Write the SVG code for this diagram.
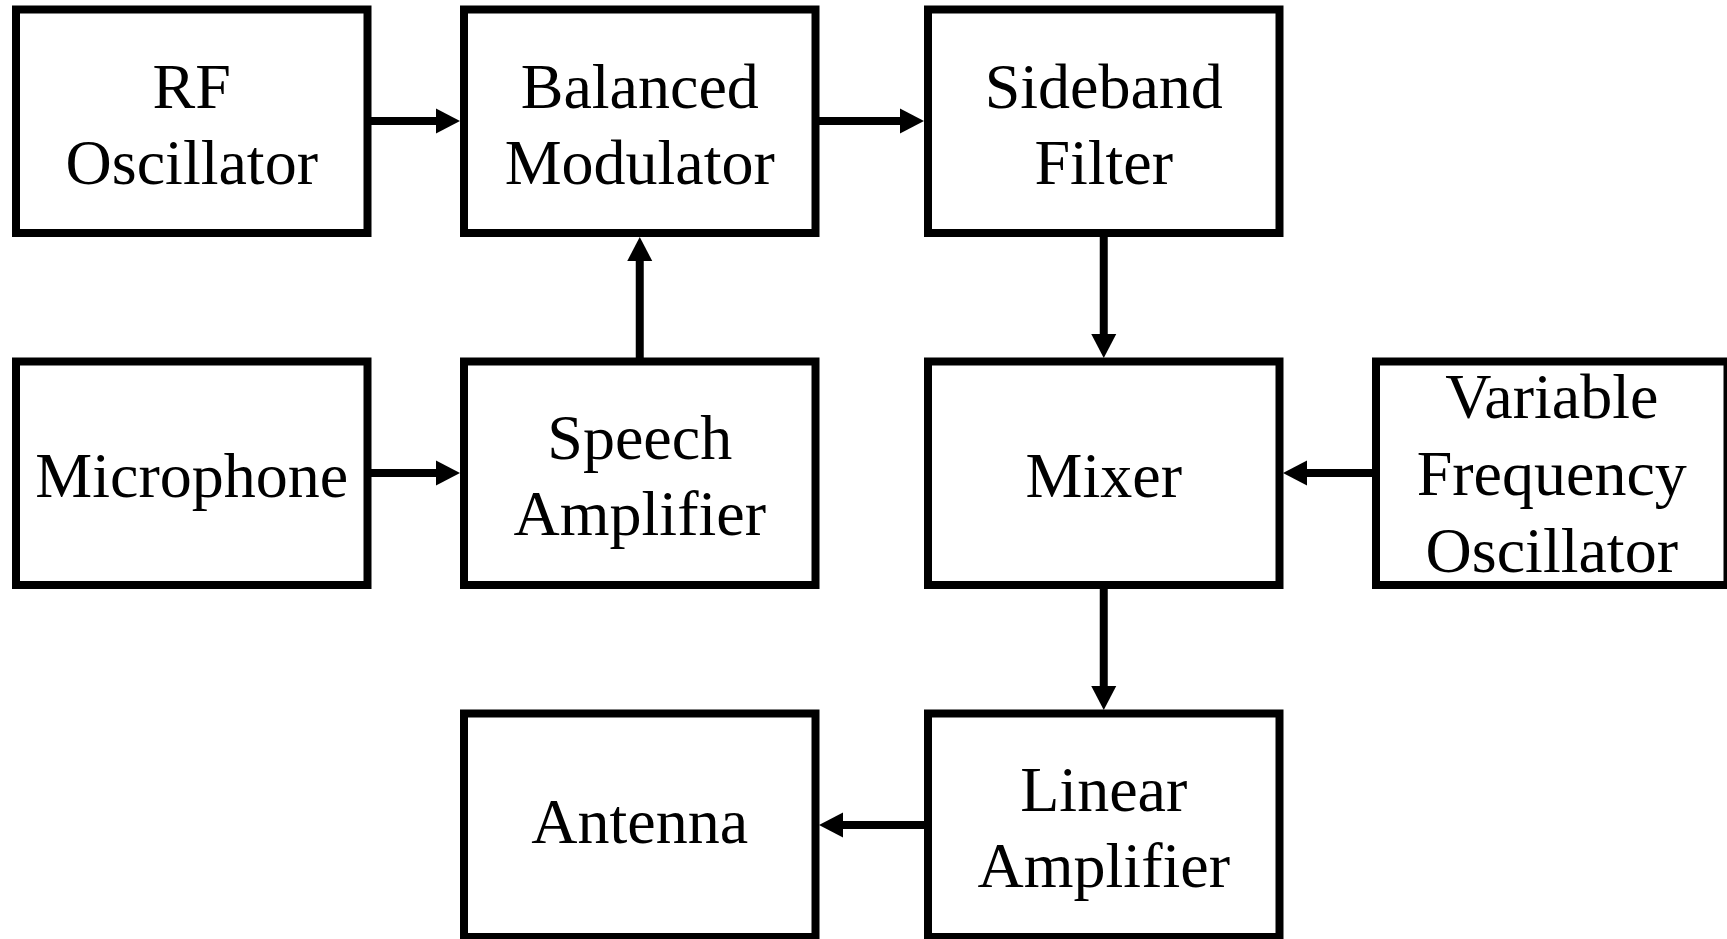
<svg xmlns="http://www.w3.org/2000/svg" width="1727" height="939" viewBox="0 0 1727 939">
<style>
.box{fill:#fff;stroke:#000;stroke-width:8}
.lbl{font-family:"Liberation Serif","Times New Roman",serif;font-size:64px;fill:#000;text-anchor:middle}
.con{stroke:#000;stroke-width:8;fill:none;marker-end:url(#ah)}
</style>
<defs>
<marker id="ah" markerUnits="userSpaceOnUse" markerWidth="24" markerHeight="26" refX="0" refY="13" orient="auto" viewBox="0 0 24 26">
<path d="M0,0.5 L24,13 L0,25.5 z" fill="#000"/>
</marker>
</defs>
<rect width="1727" height="939" fill="#fff"/>
<g id="rf-oscillator"><rect class="box" x="16" y="9.5" width="351.5" height="223.5"/><text class="lbl" x="191.75" y="108">RF</text><text class="lbl" x="191.75" y="184">Oscillator</text></g>
<g id="balanced-modulator"><rect class="box" x="464" y="9.5" width="351.5" height="223.5"/><text class="lbl" x="639.75" y="108">Balanced</text><text class="lbl" x="639.75" y="184">Modulator</text></g>
<g id="sideband-filter"><rect class="box" x="928" y="9.5" width="351.5" height="223.5"/><text class="lbl" x="1103.75" y="108">Sideband</text><text class="lbl" x="1103.75" y="184">Filter</text></g>
<g id="microphone"><rect class="box" x="16" y="361.5" width="351.5" height="223.5"/><text class="lbl" x="191.75" y="497">Microphone</text></g>
<g id="speech-amplifier"><rect class="box" x="464" y="361.5" width="351.5" height="223.5"/><text class="lbl" x="639.75" y="459">Speech</text><text class="lbl" x="639.75" y="535">Amplifier</text></g>
<g id="mixer"><rect class="box" x="928" y="361.5" width="351.5" height="223.5"/><text class="lbl" x="1103.75" y="497">Mixer</text></g>
<g id="vfo"><rect class="box" x="1376" y="361.5" width="351.5" height="223.5"/><text class="lbl" x="1551.75" y="418">Variable</text><text class="lbl" x="1551.75" y="495">Frequency</text><text class="lbl" x="1551.75" y="572">Oscillator</text></g>
<g id="antenna"><rect class="box" x="464" y="713.5" width="351.5" height="223.5"/><text class="lbl" x="639.75" y="843">Antenna</text></g>
<g id="linear-amplifier"><rect class="box" x="928" y="713.5" width="351.5" height="223.5"/><text class="lbl" x="1103.75" y="811">Linear</text><text class="lbl" x="1103.75" y="887">Amplifier</text></g>
<g id="connectors">
<line class="con" x1="371" y1="121" x2="436" y2="121"/>
<line class="con" x1="819" y1="121" x2="900" y2="121"/>
<line class="con" x1="371" y1="473" x2="436" y2="473"/>
<line class="con" x1="639.75" y1="358" x2="639.75" y2="261"/>
<line class="con" x1="1103.75" y1="237" x2="1103.75" y2="334"/>
<line class="con" x1="1372" y1="473" x2="1307" y2="473"/>
<line class="con" x1="1103.75" y1="589" x2="1103.75" y2="686"/>
<line class="con" x1="924" y1="825" x2="843" y2="825"/>
</g>
</svg>
